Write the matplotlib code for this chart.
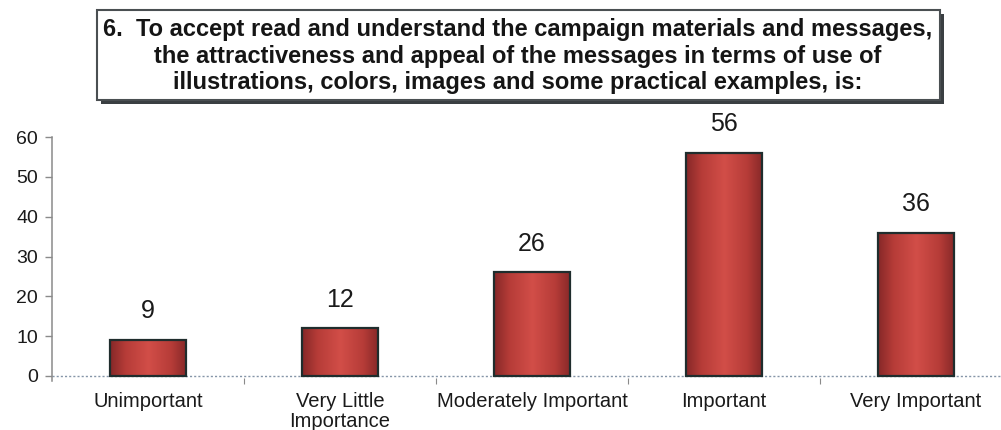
import numpy as np
import matplotlib.pyplot as plt
from matplotlib.patches import Rectangle
from matplotlib.colors import LinearSegmentedColormap

plt.rcParams['font.family'] = ['Liberation Sans', 'DejaVu Sans']

categories = ["Unimportant", "Very Little\nImportance", "Moderately Important",
              "Important", "Very Important"]
counts = [9, 12, 26, 56, 36]
yticks = [0, 10, 20, 30, 40, 50, 60]

title = ("6.  To accept read and understand the campaign materials and messages,\n"
         "the attractiveness and appeal of the messages in terms of use of\n"
         "illustrations, colors, images and some practical examples, is:")

W, H = 1001, 430
fig = plt.figure(figsize=(W / 100, H / 100), dpi=100)


def fx(x):
    return x / W


def fy(y):
    return 1 - y / H


# plot area in pixel terms: x from 52 to 1012, y=0 at 376, y=60 at 137
ymin = -1.3
px_per = (376 - 137) / 60
bottom_px = 376 + (-ymin) * px_per
ax = fig.add_axes([fx(52), fy(bottom_px), 960 / W, (bottom_px - 137) / H])

# cylinder-like red shading across each bar
shade = LinearSegmentedColormap.from_list(
    "bar", [(0.0, "#862828"), (0.2, "#b63c38"), (0.5, "#d24e48"),
            (0.8, "#b63c38"), (1.0, "#862828")])
grad = np.linspace(0, 1, 128).reshape(1, -1)

width = 0.4
x = np.arange(len(categories))
for xi, v in zip(x, counts):
    ax.imshow(grad, cmap=shade, aspect="auto", zorder=2,
              extent=(xi - width / 2, xi + width / 2, 0, v))
ax.bar(x, counts, width=width, facecolor="none", edgecolor="#1f2d2d",
       linewidth=1.6, zorder=3)

for xi, v in zip(x, counts):
    ax.annotate(str(v), (xi, v), xytext=(0, 12), textcoords="offset points",
                ha="center", va="bottom", fontsize=18, color="#1a1a1a")

ax.set_xlim(-0.5, len(categories) - 0.5)
ax.set_ylim(ymin, 60)

# dotted baseline at zero
ax.axhline(0, color="#8595a8", linestyle=(0, (1.5, 1.5)), linewidth=1, zorder=1)

for s in ["top", "right", "bottom"]:
    ax.spines[s].set_visible(False)
ax.spines["left"].set_color("#8a8a8a")
ax.spines["left"].set_linewidth(1.1)

ax.set_yticks(yticks)
ax.tick_params(axis="y", labelsize=14, colors="#8a8a8a", labelcolor="#1a1a1a",
               length=5, width=1, pad=5)

ax.set_xticks(x)
ax.set_xticklabels(categories, fontsize=14.5, color="#1a1a1a")
ax.tick_params(axis="x", length=0, pad=8)
ax.set_xticks(np.arange(0.5, len(categories) - 1, 1), minor=True)
ax.tick_params(axis="x", which="minor", length=4, width=0.8, color="#8a8a8a",
               direction="inout")
for lbl in ax.get_xticklabels():
    lbl.set_linespacing(1.05)

# title box with drop shadow
fig.add_artist(Rectangle((fx(101), fy(104)), 843 / W, 90 / H,
                         transform=fig.transFigure, facecolor="#3a3f42",
                         edgecolor="none", zorder=1))
fig.add_artist(Rectangle((fx(97), fy(100)), 843 / W, 90 / H,
                         transform=fig.transFigure, facecolor="white",
                         edgecolor="#4a4f52", linewidth=1.5, zorder=2))
fig.text(fx(518), fy(56), title, ha="center", va="center", fontsize=17,
         fontweight="bold", color="#151515", linespacing=1.2, zorder=3)

fig.savefig("out.png", dpi=100)
